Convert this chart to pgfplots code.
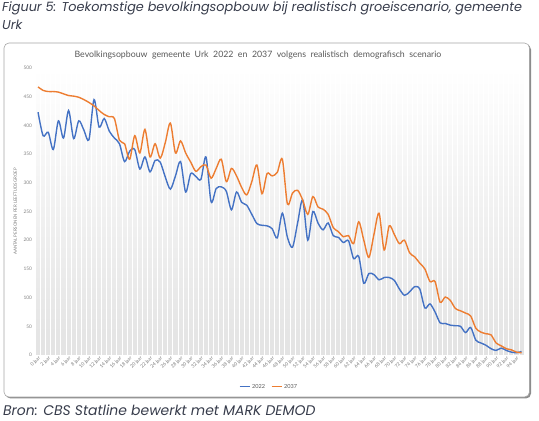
\documentclass[border=0pt]{standalone}
\usepackage{pgfplots}
\pgfplotsset{compat=1.18}
\usepackage{pgfplotstable}
\usepackage{fontspec}
\setmainfont{Lato}
\newfontfamily\capfont{Poppins}
\definecolor{blue22}{RGB}{68,114,196}
\definecolor{orange37}{RGB}{237,125,49}
\definecolor{captxt}{RGB}{55,60,75}
\definecolor{charttxt}{RGB}{89,89,89}

% leeftijd, 2022, 2037
\pgfplotstableread{
age y2022 y2037
0 423 467
1 382 461
2 388 459
3 358 459
4 408 458
5 378 455
6 426 452
7 377 451
8 408 449
9 392 445
10 375 440
11 445 434
12 397 426
13 412 419
14 390 415
15 378 412
16 368 374
17 337 368
18 355 341
19 358 382
20 324 352
21 345 393
22 319 345
23 339 368
24 336 343
25 310 370
26 289 404
27 312 352
28 337 373
29 284 352
30 316 336
31 311 320
32 306 328
33 345 331
34 267 308
35 290 325
36 293 341
37 285 302
38 253 325
39 284 312
40 266 292
41 261 279
42 245 302
43 229 331
44 226 281
45 225 316
46 220 312
47 204 318
48 247 341
49 205 263
50 188 282
51 230 287
52 270 270
53 200 245
54 250 276
55 230 258
56 218 254
57 230 245
58 208 222
59 205 215
60 196 206
61 199 208
62 168 194
63 172 232
64 125 200
65 142 170
66 140 210
67 131 247
68 135 183
69 135 225
70 130 210
71 115 194
72 104 200
73 110 178
74 119 171
75 115 160
76 82 150
77 89 128
78 75 128
79 56 92
80 55 101
81 52 95
82 51 81
83 50 77
84 39 73
85 48 68
86 26 47
87 21 40
88 17 37
89 11 35
90 8 21
91 12 16
92 8 11
93 5 9
94 4 5
95 6 4
}\bevolking

\begin{document}
\begin{tikzpicture}
\useasboundingbox (0bp,0bp) rectangle (539bp,421bp);
% bijschrift boven
\node[anchor=north west, inner sep=0pt, font=\capfont\fontsize{12.9}{17.5}\selectfont\itshape, text=captxt, align=left]
  at (2bp,419bp) {Figuur 5: Toekomstige bevolkingsopbouw bij realistisch groeiscenario, gemeente\\Urk};
% kader met schaduw
\fill[black!45, rounded corners=5bp] (5.5bp,22.5bp) rectangle (531bp,376.5bp);
\filldraw[fill=white, draw=black!35, line width=0.6bp, rounded corners=5bp] (4bp,24bp) rectangle (529.5bp,378bp);
% grafiektitel
\node[font=\fontsize{8.8}{10}\selectfont, text=charttxt] at (258bp,366bp) {Bevolkingsopbouw\ \ gemeente\ \ Urk\ \ 2022\ \ en\ \ 2037\ \ volgens\ \ realistisch\ \ demografisch\ \ scenario};
% bijschrift onder
\node[anchor=west, inner sep=0pt, font=\capfont\fontsize{14}{16}\selectfont\itshape, text=captxt]
  at (3bp,11bp) {Bron: CBS Statline bewerkt met MARK DEMOD};

\begin{axis}[
    at={(35.5bp,66bp)}, anchor=south west,
    scale only axis,
    width=488.6bp, height=287bp,
    xmin=-0.5, xmax=95.5,
    ymin=0, ymax=500,
    axis line style={draw=none},
    major tick length=0pt, minor tick length=0pt,
    axis background/.style={top color=white, bottom color=black!11},
    xtick={0,2,...,94},
    xticklabel={\pgfmathparse{int(round(\tick))}\pgfmathresult{} jaar},
    x tick label style={rotate=45, anchor=north east, inner sep=0.5pt,
        font=\fontsize{4.8}{5}\selectfont, text=charttxt!80},
    minor xtick={-0.5,0.5,...,95.5},
    xminorgrids=true,
    minor grid style={white, line width=0.9bp},
    ytick={0,50,...,500},
    y tick label style={font=\fontsize{4.8}{5}\selectfont, text=charttxt!75},
    /pgf/number format/assume math mode=true,
    ylabel={AANTAL PERSONEN PER LEEFTIJDSGROEP},
    ylabel style={font=\fontsize{4.4}{5}\selectfont, text=charttxt!80},
    legend style={at={(0.478,-0.1115)}, anchor=center, draw=none, fill=none,
        font=\fontsize{5.6}{6}\selectfont, text=charttxt,
        /tikz/every even column/.append style={column sep=4bp}},
    legend columns=2,
    legend image code/.code={\draw[#1, line width=1bp] (0,0) -- (10bp,0);},
]
\addplot[blue22, line width=1.4bp, smooth, tension=0.5] table[x=age, y=y2022] {\bevolking};
\addlegendentry{2022}
\addplot[orange37, line width=1.4bp, smooth, tension=0.5] table[x=age, y=y2037] {\bevolking};
\addlegendentry{2037}
\end{axis}
\end{tikzpicture}
\end{document}
